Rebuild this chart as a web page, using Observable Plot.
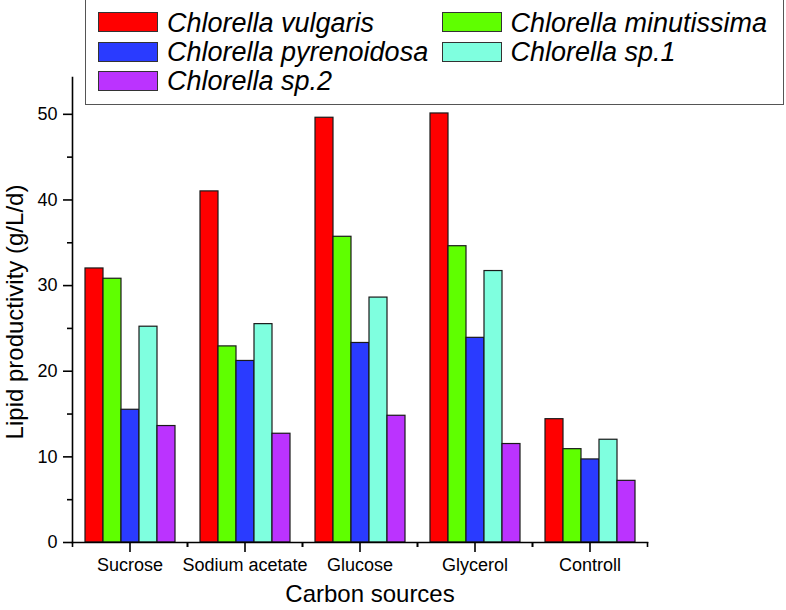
<!DOCTYPE html>
<html><head><meta charset="utf-8">
<script src="https://cdn.jsdelivr.net/npm/d3@7"></script>
<script src="https://cdn.jsdelivr.net/npm/@observablehq/plot@0.6"></script>
<style>
body{margin:0;background:#fff;}
#wrap{position:relative;width:786px;height:610px;font-family:"Liberation Sans",Arial,sans-serif;}
#legend{position:absolute;left:85px;top:-1px;width:699px;height:106px;border:1.5px solid #555;background:#fff;box-sizing:border-box;}
.item{position:absolute;display:flex;align-items:center;height:29px;white-space:nowrap;}
.sw{width:60px;height:20px;border:1.5px solid #333;box-sizing:border-box;}
.lab{font-style:italic;font-size:27px;margin-left:9px;color:#000;position:relative;top:1px;}
</style></head>
<body>
<div id="wrap"><div id="chart"></div><div id="legend"></div></div>
<script>
const categories = ["Sucrose", "Sodium acetate", "Glucose", "Glycerol", "Controll"];
const species = ["Chlorella vulgaris", "Chlorella minutissima", "Chlorella pyrenoidosa", "Chlorella sp.1", "Chlorella sp.2"];
const colors = ["#ff0000", "#5fff00", "#2a3bff", "#7fffdf", "#bb33ff"];
const vulgaris    = [32.0, 41.0, 49.6, 50.1, 14.4];
const minutissima = [30.8, 22.9, 35.7, 34.6, 10.9];
const pyrenoidosa = [15.5, 21.2, 23.3, 23.9, 9.7];
const sp1         = [25.2, 25.5, 28.6, 31.7, 12.0];
const sp2         = [13.6, 12.7, 14.8, 11.5, 7.2];
const yMajor = [0, 10, 20, 30, 40, 50];
const yMinor = [5, 15, 25, 35, 45];
const yTop = 54.3;
const xLabel = "Carbon sources";
const yLabel = "Lipid productivity (g/L/d)";

const series = [vulgaris, minutissima, pyrenoidosa, sp1, sp2];
const data = species.flatMap((s, j) => categories.map((c, i) => ({category: c, species: s, value: series[j][i]})));

const W = 786, H = 610, mL = 72, mR = 139, mT = 77, mB = 68;
const half = (W - mL - mR) / categories.length / 2;
const axisStroke = {stroke: "#000", strokeWidth: 1.6};

const chart = Plot.plot({
  width: W, height: H,
  marginLeft: mL, marginRight: mR, marginTop: mT, marginBottom: mB,
  style: {fontFamily: "'Liberation Sans', Arial, sans-serif", fontSize: "18px", background: "#fff", color: "#000"},
  fx: {domain: categories, padding: 0, label: null},
  x: {domain: species, paddingInner: 0, paddingOuter: 0.61, axis: null},
  y: {domain: [0, yTop], label: null},
  color: {domain: species, range: colors},
  marks: [
    Plot.barY(data, {fx: "category", x: "species", y: "value", fill: "species", stroke: "#1a1a1a", strokeWidth: 1.2}),
    Plot.frame({anchor: "left", facet: "super", ...axisStroke}),
    Plot.frame({anchor: "bottom", facet: "super", ...axisStroke}),
    Plot.axisY({ticks: yMajor, tickSize: 9, tickPadding: 6, label: null, fontSize: 18, ...axisStroke}),
    Plot.axisY({ticks: yMinor, tickSize: 5, tickFormat: () => "", label: null, ...axisStroke}),
    Plot.axisFx({anchor: "bottom", tickSize: 10, tickPadding: 6, label: null, fontSize: 18, ...axisStroke}),
    Plot.axisFx({anchor: "bottom", tickSize: 5, tickFormat: () => "", dx: -half, label: null, ...axisStroke}),
    Plot.axisFx({anchor: "bottom", tickSize: 5, tickFormat: () => "", dx: half, label: null, ...axisStroke}),
    Plot.text([xLabel], {frameAnchor: "bottom", lineAnchor: "middle", textAnchor: "middle", dy: 52, dx: 10, fontSize: 24, facet: "super"}),
    Plot.text([yLabel], {frameAnchor: "left", lineAnchor: "middle", textAnchor: "middle", rotate: -90, dx: -57, dy: 2, fontSize: 24, facet: "super"})
  ]
});
document.getElementById("chart").append(chart);

const legend = document.getElementById("legend");
species.forEach((s, i) => {
  const col = i % 2, row = Math.floor(i / 2);
  const item = document.createElement("div");
  item.className = "item";
  item.style.left = (col === 0 ? 12 : 355.5) + "px";
  item.style.top = (7.8 + row * 29.3) + "px";
  const sw = document.createElement("div");
  sw.className = "sw";
  sw.style.background = colors[i];
  const lab = document.createElement("span");
  lab.className = "lab";
  lab.textContent = s;
  item.append(sw, lab);
  legend.append(item);
});
</script>
</body></html>
